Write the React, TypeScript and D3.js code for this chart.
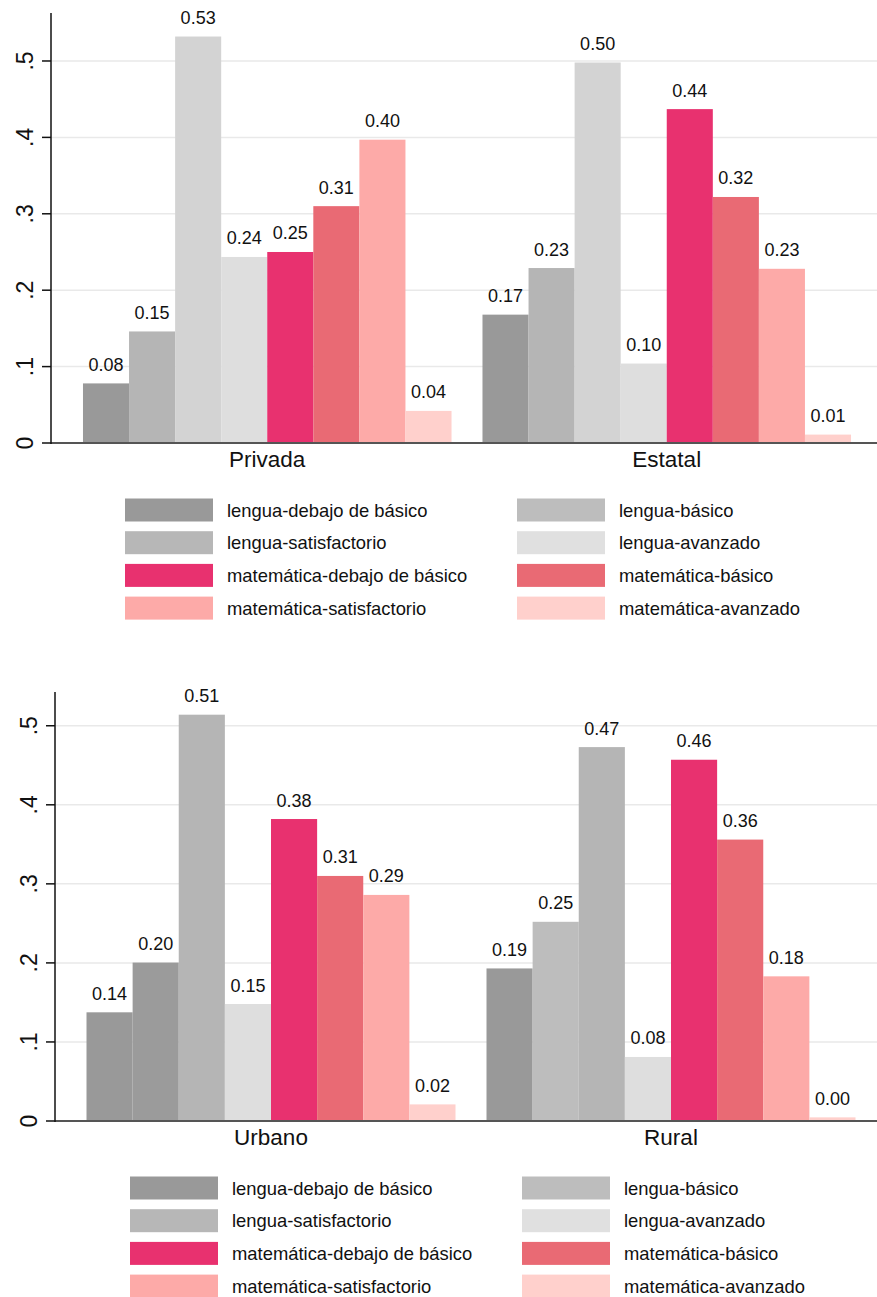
import React from "react";
import * as d3 from "d3";

const seriesNames = [
  "lengua-debajo de básico",
  "lengua-básico",
  "lengua-satisfactorio",
  "lengua-avanzado",
  "matemática-debajo de básico",
  "matemática-básico",
  "matemática-satisfactorio",
  "matemática-avanzado",
];

const topGroups = ["Privada", "Estatal"];
const bottomGroups = ["Urbano", "Rural"];

const privada = [0.078, 0.146, 0.532, 0.2435, 0.25, 0.31, 0.397, 0.042];
const estatal = [0.168, 0.229, 0.498, 0.104, 0.437, 0.322, 0.228, 0.011];
const urbano = [0.1375, 0.2004, 0.514, 0.148, 0.382, 0.31, 0.286, 0.021];
const rural = [0.193, 0.252, 0.473, 0.081, 0.457, 0.356, 0.183, 0.0046];

const mathColors = ["#e8316f", "#e96a74", "#fdaaa8", "#ffd0cc"];
const privadaColors = ["#999999", "#b5b5b5", "#d3d3d3", "#dedede", ...mathColors];
const estatalColors = ["#999999", "#b5b5b5", "#d3d3d3", "#dedede", ...mathColors];
const urbanoColors = ["#999999", "#9b9b9b", "#b5b5b5", "#dedede", ...mathColors];
const ruralColors = ["#999999", "#bdbdbd", "#b5b5b5", "#dedede", ...mathColors];
const legendColors = ["#999999", "#bdbdbd", "#b7b7b7", "#e0e0e0", ...mathColors];

const yTicks = [0, 0.1, 0.2, 0.3, 0.4, 0.5];
const yTickLabels = ["0", ".1", ".2", ".3", ".4", ".5"];

const FONT = "'Liberation Sans', Arial, Helvetica, sans-serif";
const W = 877;
const H = 1297;

type PanelProps = {
  groups: string[];
  values: number[][];
  colors: string[][];
  axisX: number;
  baseline: number;
  axisTop: number;
  yMax: number;
  xRange: [number, number];
  legendY: number;
  legendX: number;
};

function Panel(p: PanelProps) {
  const y = d3.scaleLinear().domain([0, p.yMax]).range([p.baseline, p.axisTop]);
  const xg = d3
    .scaleBand<string>()
    .domain(p.groups)
    .range(p.xRange)
    .paddingInner(0.0775)
    .paddingOuter(0.03875);
  const xs = d3
    .scaleBand<string>()
    .domain(seriesNames)
    .range([0, xg.bandwidth()])
    .padding(0);
  const fmt = d3.format(".2f");
  const rowH = 32.7;
  return (
    <g>
      {yTicks.slice(1).map((t, i) => (
        <line
          key={"g" + i}
          x1={p.axisX}
          x2={W}
          y1={y(t)}
          y2={y(t)}
          stroke="#e9e9e9"
          strokeWidth={1.5}
        />
      ))}
      {p.groups.map((g, gi) => (
        <g key={g} transform={`translate(${xg(g)},0)`}>
          {seriesNames.map((s, si) => {
            const v = p.values[gi][si];
            const x0 = xs(s)!;
            return (
              <g key={s}>
                <rect
                  x={x0}
                  y={y(v)}
                  width={xs.bandwidth()}
                  height={p.baseline - y(v)}
                  fill={p.colors[gi][si]}
                />
                <text
                  x={x0 + xs.bandwidth() / 2}
                  y={y(v) - 12.5}
                  textAnchor="middle"
                  fontSize={18}
                  fontFamily={FONT}
                  fill="#111"
                >
                  {fmt(v)}
                </text>
              </g>
            );
          })}
          <text
            x={xg.bandwidth() / 2}
            y={p.baseline + 24}
            textAnchor="middle"
            fontSize={22.5}
            fontFamily={FONT}
            fill="#111"
          >
            {g}
          </text>
        </g>
      ))}
      <line x1={p.axisX} x2={W} y1={p.baseline} y2={p.baseline} stroke="#555" strokeWidth={2} />
      <line x1={p.axisX} x2={p.axisX} y1={p.axisTop} y2={p.baseline + 1} stroke="#111" strokeWidth={1.5} />
      {yTicks.map((t, i) => (
        <g key={"t" + i}>
          <line x1={p.axisX - 9} x2={p.axisX} y1={y(t)} y2={y(t)} stroke="#111" strokeWidth={1.5} />
          <text
            transform={`translate(${p.axisX - 18},${y(t)}) rotate(-90)`}
            textAnchor="middle"
            fontSize={23}
            fontFamily={FONT}
            fill="#111"
          >
            {yTickLabels[i]}
          </text>
        </g>
      ))}
      {seriesNames.map((s, i) => {
        const col = i % 2;
        const row = Math.floor(i / 2);
        const sx = p.legendX + col * 392;
        const sy = p.legendY + row * rowH;
        return (
          <g key={"l" + i}>
            <rect x={sx} y={sy} width={88} height={23} fill={legendColors[i]} />
            <text x={sx + 102} y={sy + 18} fontSize={18.4} fontFamily={FONT} fill="#111">
              {s}
            </text>
          </g>
        );
      })}
    </g>
  );
}

export default function App() {
  return (
    <svg
      width={W}
      height={H}
      viewBox={`0 0 ${W} ${H}`}
      style={{ position: "absolute", left: 0, top: 0, background: "#fff", display: "block" }}
    >
      <rect width={W} height={H} fill="#fff" />
      <Panel
        groups={topGroups}
        values={[privada, estatal]}
        colors={[privadaColors, estatalColors]}
        axisX={51}
        baseline={443}
        axisTop={13}
        yMax={0.5628}
        xRange={[67.5, 866.5]}
        legendY={498.5}
        legendX={125}
      />
      <Panel
        groups={bottomGroups}
        values={[urbano, rural]}
        colors={[urbanoColors, ruralColors]}
        axisX={55}
        baseline={1121}
        axisTop={692}
        yMax={0.5427}
        xRange={[71, 871]}
        legendY={1176.5}
        legendX={130}
      />
    </svg>
  );
}
